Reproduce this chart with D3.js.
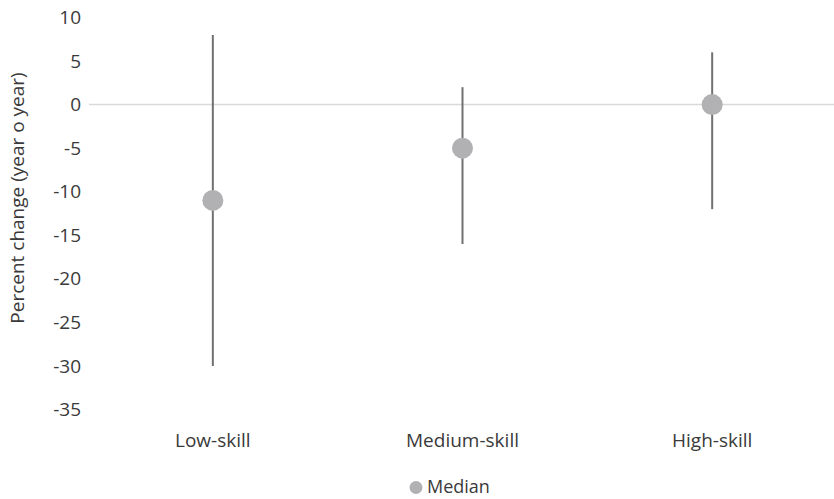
<!DOCTYPE html>
<html>
<head>
<meta charset="utf-8">
<script src="https://cdn.jsdelivr.net/npm/d3@7"></script>
<style>
  html, body { margin: 0; padding: 0; background: #fff; }
  svg { display: block; font-family: "Open Sans", sans-serif; }
</style>
</head>
<body>
<svg id="chart" width="834" height="499"></svg>
<script>
const categories = ["Low-skill", "Medium-skill", "High-skill"];
const medianValues = [-11, -5, 0];
const highValues = [8, 2, 6];
const lowValues = [-30, -16, -12];
const yTicks = [10, 5, 0, -5, -10, -15, -20, -25, -30, -35];
const yTitle = "Percent change (year o year)";
const legendLabel = "Median";

const svg = d3.select("#chart");
const W = 834, H = 499;
const fontSize = "19px";

const x = d3.scaleBand().domain(categories).range([88, 837]);
const y = d3.scaleLinear().domain([-35, 10]).range([409.5, 17.5]);

const textColor = "#3a3a3a";

// zero gridline
svg.append("line")
  .attr("x1", 89).attr("x2", W)
  .attr("y1", y(0)).attr("y2", y(0))
  .attr("stroke", "#d9d9d9").attr("stroke-width", 1.5);

// y axis labels
const yAxis = d3.axisLeft(y).tickValues(yTicks).tickSize(0).tickPadding(0)
  .tickFormat(d => String(d));
const gy = svg.append("g").attr("transform", "translate(81,0)").call(yAxis);
gy.select(".domain").remove();
gy.selectAll("text")
  .attr("fill", textColor)
  .style("font-size", fontSize)
  .style("font-family", "Open Sans, sans-serif");

// x axis labels
const xAxis = d3.axisBottom(x).tickSize(0).tickPadding(0);
const gx = svg.append("g").attr("transform", "translate(0,447)").call(xAxis);
gx.select(".domain").remove();
gx.selectAll("text")
  .attr("y", 0).attr("dy", 0)
  .attr("fill", textColor)
  .style("font-size", fontSize)
  .style("font-family", "Open Sans, sans-serif");

// range lines
const cx = d => x(d) + x.bandwidth() / 2;
svg.append("g").selectAll("line")
  .data(categories)
  .join("line")
  .attr("x1", d => cx(d)).attr("x2", d => cx(d))
  .attr("y1", (d, i) => y(highValues[i]))
  .attr("y2", (d, i) => y(lowValues[i]))
  .attr("stroke", "#707070").attr("stroke-width", 2);

// median markers
svg.append("g").selectAll("circle")
  .data(categories)
  .join("circle")
  .attr("cx", d => cx(d))
  .attr("cy", (d, i) => y(medianValues[i]))
  .attr("r", 10.5)
  .attr("fill", "#b1b1b4");

// y title
svg.append("text")
  .attr("transform", "translate(17,198) rotate(-90)")
  .attr("text-anchor", "middle")
  .attr("dominant-baseline", "central")
  .attr("fill", textColor)
  .style("font-size", fontSize)
  .text(yTitle);

// legend
svg.append("circle")
  .attr("cx", 416).attr("cy", 487.5).attr("r", 6.5)
  .attr("fill", "#b1b1b4");
svg.append("text")
  .attr("x", 427).attr("y", 493)
  .attr("fill", textColor)
  .style("font-size", "18px")
  .text(legendLabel);
</script>
</body>
</html>
